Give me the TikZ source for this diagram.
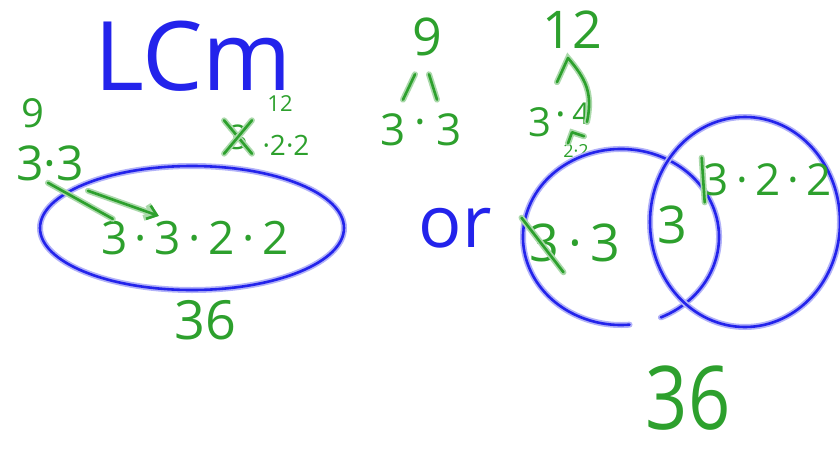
\documentclass[tikz,border=0pt]{standalone}
\usepackage{fontspec}
\setmainfont{Open Sans}
\usetikzlibrary{arrows.meta,calc}

\definecolor{penblue}{RGB}{35,35,235}
\definecolor{pengreen}{RGB}{45,160,45}

\newcommand{\fsz}[1]{\fontsize{#1}{#1}\selectfont}

\begin{document}
\begin{tikzpicture}[
    x=1pt, y=-1pt,
    bpen/.style={draw=penblue, line width=2.6pt, line cap=round, line join=round,
                 preaction={draw=penblue!35, line width=6pt, line cap=round}},
    gpen/.style={draw=pengreen, line width=2.6pt, line cap=round, line join=round,
                 preaction={draw=pengreen!40, line width=6pt, line cap=round}},
    gtxt/.style={text=pengreen, inner sep=0pt},
    btxt/.style={text=penblue, inner sep=0pt},
  ]
  \useasboundingbox (0,0) rectangle (840,450);

  %% ===== left: LCm with the oval =====
  \node[btxt, font=\fsz{96}] (title) at (193,56) {LCm};

  \node[gtxt, font=\fsz{40}] (n9a) at (33,113) {9};
  \node[gtxt, font=\fsz{48}] (f33) at (50,163) {3·3};

  \node[gtxt, font=\fsz{46}] (prod) at (195,238) {3\,·\,3\,·\,2\,·\,2};
  \draw[bpen] (192,228) ellipse [x radius=152, y radius=62];

  \node[gtxt, font=\fsz{34}] (x3)  at (238,137) {3};
  \node[gtxt, font=\fsz{28}] (x22) at (286,145) {·2·2};
  \node[gtxt, font=\fsz{22}] (x12) at (280,104) {12};
  % crossed out
  \draw[gpen] ([xshift=-4pt,yshift=4pt]x3.north west) -- ([xshift=4pt,yshift=-4pt]x3.south east);
  \draw[gpen] ([xshift=4pt,yshift=4pt]x3.north east) -- ([xshift=-4pt,yshift=-4pt]x3.south west);

  %% the two threes carried down
  \draw[gpen] ([xshift=-2pt,yshift=-2pt]f33.south) -- ([xshift=12pt,yshift=2pt]prod.north west);
  \draw[gpen, -{Straight Barb[length=9pt,width=14pt]}]
    ([xshift=38pt,yshift=-10pt]f33.south) -- ([xshift=58pt,yshift=5pt]prod.north west);

  \node[gtxt, font=\fsz{54}] (n36a) at (205,320) {36};

  %% ===== middle: factor trees =====
  \node[gtxt, font=\fsz{52}] (n9)   at (427,37)  {9};
  \node[gtxt, font=\fsz{44}] (t3a)  at (393,130) {3};
  \node[gtxt, font=\fsz{44}] (tdot) at (420,128) {·};
  \node[gtxt, font=\fsz{44}] (t3b)  at (449,130) {3};
  \draw[gpen] ([xshift=-12pt,yshift=-18pt]n9.south) -- ([xshift=10pt,yshift=14pt]t3a.north);
  \draw[gpen] ([xshift=2pt,yshift=-18pt]n9.south) -- ([xshift=-12pt,yshift=14pt]t3b.north);

  \node[gtxt, font=\fsz{52}] (n12)  at (572,30)  {12};
  \node[gtxt, font=\fsz{40}] (t3c)  at (540,122) {3};
  \node[gtxt, font=\fsz{40}] (tdt2) at (561,120) {·};
  \node[gtxt, font=\fsz{30}] (t4)   at (581,114) {4};
  \node[gtxt, font=\fsz{18}] (t22)  at (576,151) {2·2};
  \draw[gpen] ([xshift=17pt,yshift=25pt]t3c.north) -- ([xshift=-4pt,yshift=-9pt]n12.south)
    .. controls ([xshift=14pt,yshift=-30pt]n12.south) and ([xshift=12pt,yshift=10pt]t4.north) .. ([xshift=6pt,yshift=3pt]t4.south);
  \draw[gpen] ([xshift=-8pt,yshift=1pt]t22.north) -- ([xshift=-4pt,yshift=12pt]t22.north)
    -- ([xshift=8pt,yshift=8pt]t22.north);

  \node[btxt, font=\fsz{72}] (or) at (455,228) {or};

  %% ===== right: the two circles =====
  \draw[bpen] (621,237) ++(-66:98pt and 88pt) arc[start angle=-66, end angle=275, x radius=98pt, y radius=88pt];
  \draw[bpen] (745,222) ellipse [x radius=95, y radius=105];

  \node[gtxt, font=\fsz{52}] (vl) at (575,243) {3\,·\,3};
  \draw[gpen] ([xshift=-8pt,yshift=6pt]vl.north west) -- ([xshift=34pt,yshift=-10pt]vl.south west);
  \node[gtxt, font=\fsz{52}] (vm) at (672,225) {3};
  \node[gtxt, font=\fsz{44}] (vr) at (768,180) {3\,·\,2\,·\,2};
  \draw[gpen] ([xshift=-2pt,yshift=6pt]vr.north west) -- ([xshift=1pt,yshift=-6pt]vr.south west);

  \node[gtxt, font=\fsz{88}] (n36b) at (688,398) {\scalebox{0.84}[1]{36}};
\end{tikzpicture}
\end{document}
